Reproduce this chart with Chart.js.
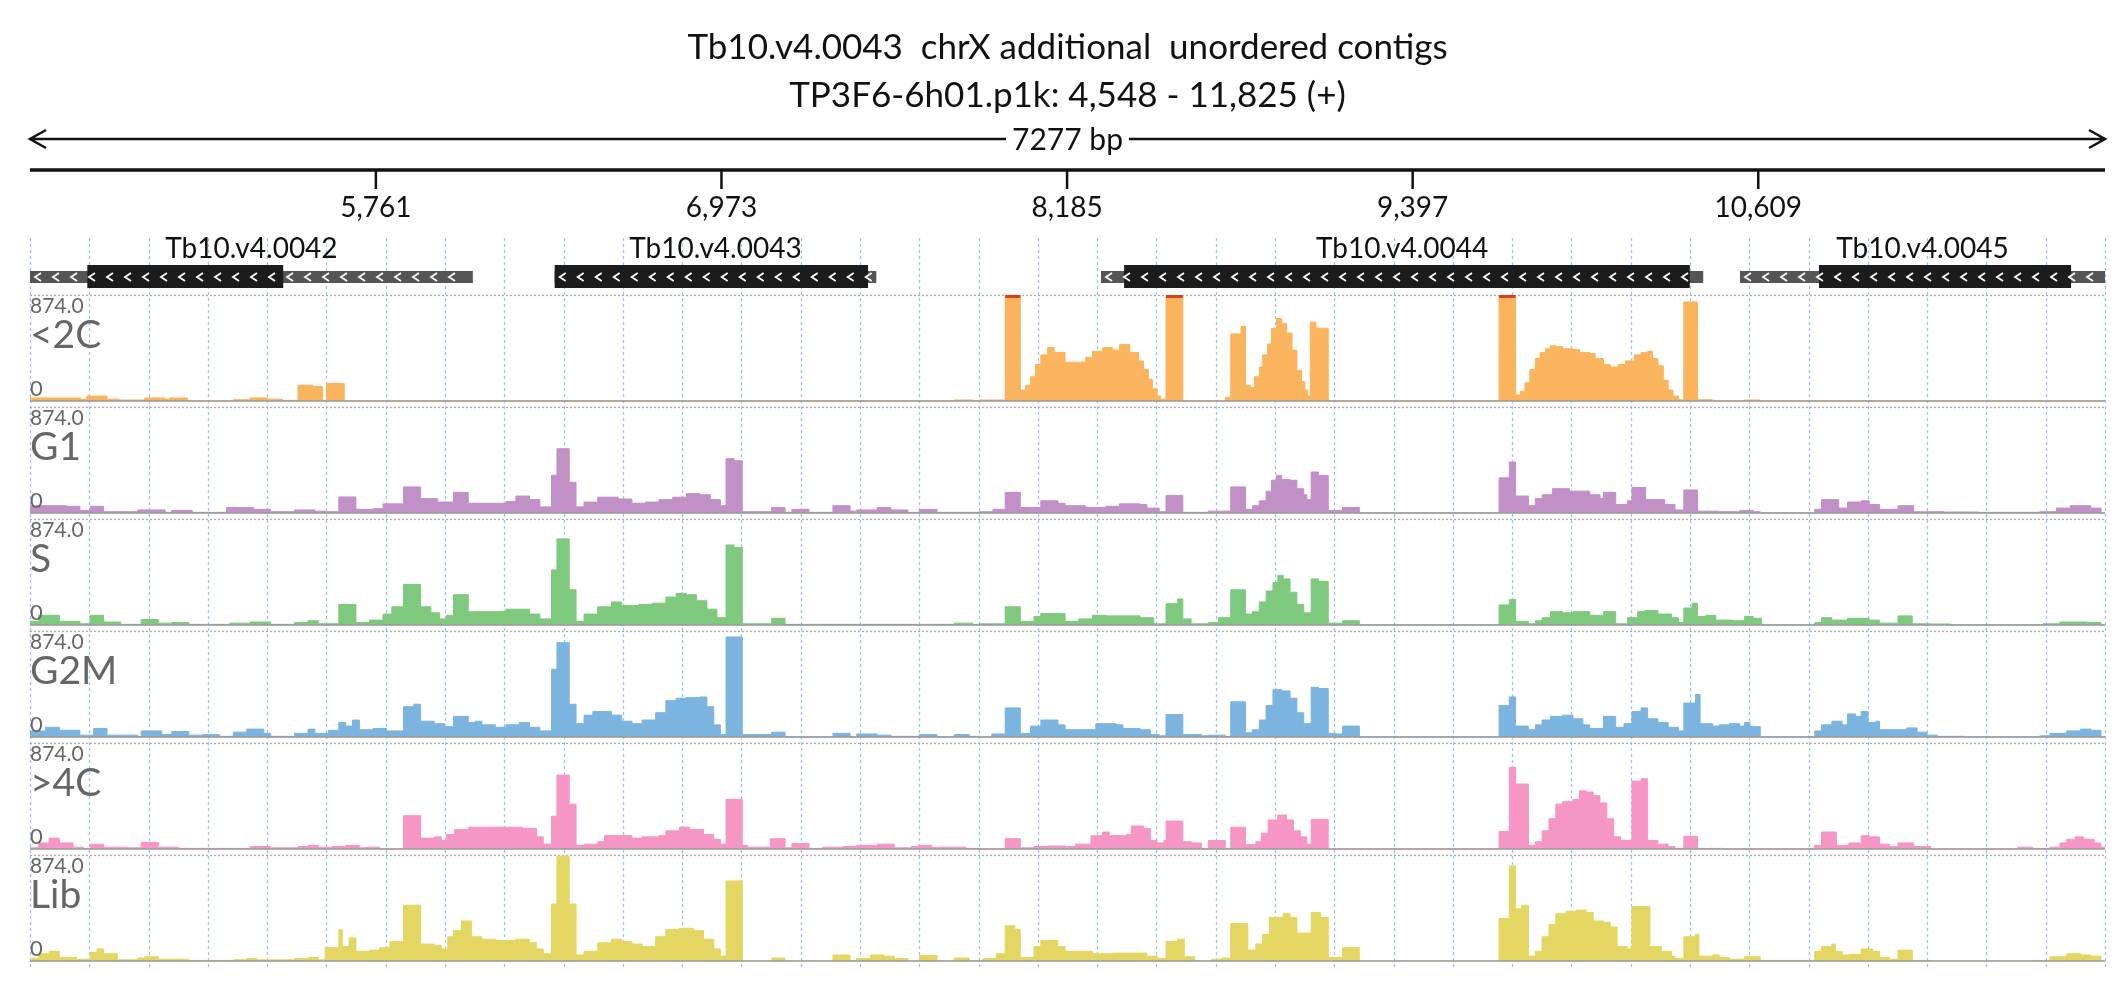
<!DOCTYPE html>
<html>
<head>
<meta charset="utf-8">
<script src="https://cdn.jsdelivr.net/npm/chart.js@4"></script>
<style>
  html, body { margin: 0; padding: 0; background: #fff; }
  #wrap { width: 2126px; height: 1000px; }
</style>
</head>
<body>
<div id="wrap"><canvas id="chart" width="2126" height="1000"></canvas></div>
<script>
const REGION_START = 4548;
const REGION_END = 11825;
const TRACK_MAX = 874;
const titleLines = ['Tb10.v4.0043  chrX additional  unordered contigs', 'TP3F6-6h01.p1k: 4,548 - 11,825 (+)'];
const spanLabel = '7277 bp';
const rulerTicks = [5761, 6973, 8185, 9397, 10609];

// genes: [name, thinStart, thinEnd, thickStart, thickEnd]
const genes = [
  ['Tb10.v4.0042', 4548, 6101, 4749, 5436],
  ['Tb10.v4.0043', 6388, 7516, 6388, 7487],
  ['Tb10.v4.0044', 8304, 10416, 8385, 10369],
  ['Tb10.v4.0045', 10545, 11825, 10822, 11706]
];

const trackNames = ['<2C', 'G1', 'S', 'G2M', '>4C', 'Lib'];
const trackColors = ['#fbb45e', '#c190c7', '#7fc97f', '#7cb4e0', '#f596c5', '#e4d662'];

// coverage as steps: value holds from each position until the next one
const posLt2C = [4548,4725,4747,4818,4861,4950,5022,5038,5100,5261,5320,5380,5433,5488,5540,5574,5588,5650,7789,7854,7878,7968,8021,8040,8057,8074,8093,8117,8140,8178,8250,8274,8309,8345,8369,8405,8436,8453,8470,8484,8501,8513,8532,8591,8740,8759,8795,8811,8828,8842,8859,8871,8888,8902,8919,8938,8955,8974,8991,9007,9019,9029,9038,9058,9101,9700,9758,9775,9791,9808,9827,9844,9863,9880,9899,9923,9959,9982,10018,10037,10066,10090,10119,10143,10174,10198,10221,10238,10257,10276,10293,10310,10329,10348,10396,10449,10561,10616];
const valLt2C = [25,12,40,15,8,25,15,25,0,10,25,15,5,130,120,5,145,0,8,0,8,874,90,130,200,300,380,440,400,320,360,410,440,420,465,400,330,260,180,100,40,15,874,0,30,553,616,130,110,200,280,380,470,600,680,640,560,420,250,160,90,40,650,600,0,874,50,80,150,260,350,400,430,455,450,430,425,400,390,350,300,280,300,330,380,400,410,350,290,170,90,40,10,817,10,0,8,0];

const posG1 = [4548,4675,4723,4759,4806,4926,5022,5045,5117,5237,5332,5392,5476,5547,5583,5631,5691,5751,5786,5858,5918,5978,6033,6085,6217,6252,6300,6336,6377,6396,6439,6463,6491,6539,6611,6659,6707,6754,6802,6850,6898,6934,6969,6989,7017,7046,7149,7196,7220,7280,7364,7424,7447,7519,7567,7627,7667,7729,7878,7925,7968,8021,8093,8153,8178,8250,8321,8369,8441,8465,8508,8532,8591,8680,8759,8811,8835,8859,8883,8902,8919,8938,8967,8991,9015,9026,9041,9067,9101,9151,9210,9700,9736,9758,9803,9827,9851,9887,9947,10018,10054,10066,10109,10150,10166,10214,10281,10317,10348,10396,10472,10544,10592,10616,10807,10831,10891,10922,10970,10998,11034,11099,11154,11261,11381,11596,11655,11703,11775,11811];
const valG1 = [60,55,20,55,10,25,5,20,5,45,30,10,25,15,10,132,30,35,75,215,118,90,170,80,95,140,110,50,311,530,253,50,90,130,115,80,90,110,130,160,150,110,60,448,430,10,45,5,30,5,60,15,25,45,25,5,30,5,10,30,170,45,100,80,60,45,55,75,70,40,10,145,5,15,215,30,60,100,180,270,310,275,270,200,150,110,338,310,20,45,0,290,420,140,60,120,150,200,180,150,120,170,70,100,210,110,70,25,190,15,10,20,10,0,30,110,40,90,100,70,30,60,10,8,5,10,40,60,40,0];

const posS = [4548,4579,4651,4723,4759,4806,4866,4938,4998,5045,5105,5249,5320,5392,5476,5523,5559,5631,5691,5739,5786,5817,5858,5918,5954,5985,6009,6033,6085,6217,6300,6336,6377,6396,6439,6463,6491,6539,6587,6623,6683,6730,6778,6814,6850,6886,6922,6957,6989,7017,7046,7149,7196,7789,7854,7878,7968,8021,8069,8093,8178,8226,8274,8321,8441,8489,8532,8572,8591,8620,8680,8716,8759,8811,8835,8859,8883,8907,8924,8943,8967,8991,9015,9041,9067,9101,9151,9210,9700,9736,9758,9803,9827,9851,9880,9923,9959,10018,10066,10109,10150,10186,10210,10257,10305,10329,10348,10377,10396,10425,10460,10520,10561,10592,10621,10807,10831,10867,10922,10998,11034,11099,11149,11213,11285,11608,11667,11763,11811];
const valS = [30,80,30,10,80,25,5,45,15,20,5,15,25,5,20,35,10,170,20,40,90,150,335,150,100,50,80,250,110,130,90,50,454,710,290,30,90,150,190,160,170,180,230,260,250,200,130,60,660,640,10,55,5,15,5,10,150,30,70,95,30,50,80,75,60,10,175,215,50,10,20,60,290,90,110,190,280,350,410,380,270,170,100,380,360,15,35,0,165,210,30,10,35,60,110,100,110,80,110,10,60,110,120,90,60,20,140,180,70,80,40,35,70,55,0,20,60,40,55,40,15,75,10,8,0,10,25,20,0];

const posG2M = [4548,4603,4651,4723,4771,4818,4926,4938,5010,5045,5105,5153,5213,5261,5308,5368,5392,5476,5523,5547,5595,5631,5655,5679,5703,5751,5798,5858,5894,5918,5966,6001,6033,6085,6109,6133,6181,6217,6264,6300,6336,6377,6396,6439,6463,6491,6522,6587,6623,6659,6695,6742,6778,6814,6850,6898,6922,6946,6969,6989,7046,7149,7196,7364,7424,7447,7519,7567,7667,7729,7789,7842,7878,7921,7968,8021,8057,8093,8153,8178,8286,8357,8381,8441,8477,8508,8532,8591,8656,8680,8740,8759,8811,8835,8859,8883,8907,8938,8967,8991,9015,9041,9067,9101,9129,9151,9210,9700,9736,9758,9803,9827,9851,9880,9923,9959,9994,10018,10066,10109,10138,10166,10198,10221,10257,10293,10329,10348,10389,10405,10449,10472,10508,10544,10561,10580,10616,10807,10831,10867,10903,10922,10950,10970,10994,11022,11034,11099,11130,11166,11201,11237,11333,11596,11632,11691,11739,11775,11811];
const valG2M = [50,80,55,15,70,15,5,50,20,45,15,20,5,40,65,30,5,30,65,30,55,120,90,140,60,70,50,250,270,130,110,85,170,120,130,100,80,100,120,80,50,558,778,270,110,180,210,180,130,110,140,200,300,320,325,330,250,100,20,825,20,40,0,30,0,25,15,5,20,0,20,5,0,25,240,30,90,140,100,60,110,100,70,60,20,10,185,20,10,15,5,290,35,60,140,260,390,380,320,200,110,410,400,30,25,90,0,260,330,90,60,100,140,170,180,150,100,70,170,80,110,210,240,150,120,80,50,280,350,110,90,100,110,90,120,85,0,50,100,130,100,190,170,210,120,130,60,60,75,40,15,5,0,10,30,50,65,55,0];

const posGt4C = [4548,4579,4615,4651,4699,4735,4759,4806,4890,4938,4998,5069,5249,5320,5392,5488,5523,5559,5607,5655,5703,5727,5774,5858,5918,5966,5990,6009,6037,6085,6276,6324,6348,6377,6396,6439,6463,6491,6539,6563,6659,6695,6754,6778,6826,6862,6910,6946,6969,6989,7046,7065,7144,7196,7220,7280,7328,7400,7447,7519,7579,7639,7663,7710,7830,7878,7968,8021,8069,8117,8178,8214,8269,8309,8333,8393,8410,8453,8477,8501,8525,8532,8591,8620,8656,8680,8740,8759,8811,8847,8866,8890,8924,8955,8979,9003,9026,9041,9101,9700,9736,9758,9803,9827,9851,9875,9899,9923,9959,9982,10006,10030,10054,10078,10102,10126,10166,10198,10221,10257,10293,10317,10348,10396,10484,10807,10831,10883,10927,10970,10998,11034,11070,11099,11154,11213,11519,11572,11632,11667,11691,11720,11751,11787,11811];
const valGt4C = [10,50,90,50,15,5,40,15,10,55,15,5,5,20,10,20,30,15,20,30,10,15,0,275,90,100,70,120,160,180,170,100,40,270,610,370,30,40,60,110,90,100,110,150,180,160,120,80,40,410,30,15,85,10,45,5,15,20,30,40,10,20,30,15,5,0,85,10,20,25,20,40,110,140,110,120,190,170,70,50,70,230,60,50,0,70,5,180,35,60,130,240,280,240,150,100,40,245,0,145,674,536,30,60,150,250,370,390,410,480,470,440,380,250,100,70,560,580,70,40,20,5,105,5,0,30,140,30,50,110,100,40,20,50,20,0,15,5,15,50,80,100,80,50,15];

const posLib = [4548,4579,4615,4651,4711,4759,4783,4806,4854,4926,4950,4998,5105,5261,5308,5344,5476,5523,5559,5583,5631,5643,5667,5691,5739,5774,5810,5858,5918,5966,5990,6013,6033,6061,6097,6133,6181,6252,6300,6324,6348,6377,6396,6439,6463,6491,6539,6587,6623,6659,6695,6742,6778,6826,6874,6910,6946,6969,6989,7046,7149,7196,7364,7424,7447,7495,7543,7579,7627,7667,7729,7789,7842,7890,7937,7968,8002,8021,8069,8093,8153,8178,8274,8345,8465,8501,8532,8572,8596,8632,8692,8728,8759,8819,8847,8871,8895,8943,8967,8991,9041,9074,9101,9151,9210,9700,9736,9758,9779,9803,9827,9851,9875,9899,9935,9971,10006,10030,10066,10090,10114,10150,10166,10229,10269,10305,10317,10348,10389,10401,10449,10472,10508,10561,10616,10807,10831,10867,10879,10903,10927,10970,11010,11034,11070,11099,11149,11213,11572,11632,11691,11739,11775,11811];
const valLib = [20,60,80,30,15,70,100,60,10,25,35,15,5,10,20,10,20,30,10,110,258,120,190,80,90,110,160,460,140,130,100,200,250,330,200,180,170,180,150,100,60,470,865,470,50,80,150,180,160,140,120,200,260,270,250,180,100,40,660,0,25,0,50,0,20,50,40,20,0,45,0,25,0,20,60,290,260,30,120,170,120,80,60,65,40,20,160,180,35,0,15,25,310,90,140,220,360,390,360,230,400,360,30,110,0,350,784,430,460,40,80,200,300,390,410,420,400,330,320,280,120,100,450,120,80,40,20,200,220,40,50,30,15,35,5,80,120,140,80,50,55,100,80,30,15,90,5,0,5,35,60,50,40,0];

const trackPos = [posLt2C, posG1, posS, posG2M, posGt4C, posLib];
const trackVal = [valLt2C, valG1, valS, valG2M, valGt4C, valLib];

// vertical stacking: each track gets a band of the shared y scale
const BAND = 924;
const nTracks = trackNames.length;
const baseOf = i => (nTracks - 1 - i) * BAND;

const datasets = trackNames.map((name, i) => {
  const pos = trackPos[i], val = trackVal[i], base = baseOf(i);
  const pts = pos.map((x, k) => ({x: x, y: base + val[k]}));
  pts.push({x: REGION_END, y: base + val[val.length - 1]});
  return {
    label: name,
    data: pts,
    stepped: 'before',
    fill: {value: base},
    backgroundColor: trackColors[i],
    borderColor: trackColors[i],
    borderWidth: 1,
    pointRadius: 0,
    tension: 0
  };
});

const FONT = 'Lato, "Open Sans", sans-serif';

const gridPlugin = {
  id: 'grid',
  beforeDatasetsDraw(chart) {
    const ctx = chart.ctx, x = chart.scales.x, y = chart.scales.y;
    const area = chart.chartArea;
    ctx.save();
    // dotted blue grid
    ctx.strokeStyle = '#9cc6ec';
    ctx.lineWidth = 1.3;
    ctx.setLineDash([3, 3]);
    const step = (REGION_END - REGION_START) / 35;
    for (let k = 0; k <= 35; k++) {
      const px = Math.round(x.getPixelForValue(REGION_START + k * step)) + 0.5;
      ctx.beginPath();
      ctx.moveTo(px, 238);
      ctx.lineTo(px, area.bottom + 6);
      ctx.stroke();
    }
    // track top lines
    ctx.strokeStyle = '#aaa';
    ctx.setLineDash([2, 2]);
    for (let i = 0; i < nTracks; i++) {
      const top = Math.round(y.getPixelForValue(baseOf(i) + TRACK_MAX)) + 0.5;
      ctx.beginPath();
      ctx.moveTo(area.left, top);
      ctx.lineTo(area.right, top);
      ctx.stroke();
    }
    ctx.restore();
  },
  afterDatasetsDraw(chart) {
    const ctx = chart.ctx, x = chart.scales.x, y = chart.scales.y;
    const area = chart.chartArea;
    ctx.save();
    for (let i = 0; i < nTracks; i++) {
      const base = baseOf(i);
      const by = y.getPixelForValue(base);
      const ty = y.getPixelForValue(base + TRACK_MAX);
      // clipped tops
      const pos = trackPos[i], val = trackVal[i];
      ctx.fillStyle = '#d9411e';
      for (let k = 0; k < pos.length; k++) {
        if (val[k] >= TRACK_MAX) {
          const x0 = x.getPixelForValue(pos[k]);
          const x1 = x.getPixelForValue(k + 1 < pos.length ? pos[k + 1] : REGION_END);
          ctx.fillRect(x0, ty, x1 - x0, 3);
        }
      }
      // baseline
      ctx.strokeStyle = '#999';
      ctx.lineWidth = 1.5;
      ctx.beginPath();
      ctx.moveTo(area.left, by);
      ctx.lineTo(area.right, by);
      ctx.stroke();
      // labels
      ctx.fillStyle = '#666';
      ctx.textAlign = 'left';
      ctx.textBaseline = 'top';
      ctx.font = '21px ' + FONT;
      ctx.fillText('874.0', area.left, ty + 1);
      ctx.font = '39px ' + FONT;
      ctx.fillText(trackNames[i], area.left, ty + 21);
      ctx.textBaseline = 'bottom';
      ctx.font = '22px ' + FONT;
      ctx.fillText('0', area.left, by - 1);
    }
    ctx.restore();
  },
  afterDraw(chart) {
    const ctx = chart.ctx, x = chart.scales.x;
    const L = x.getPixelForValue(REGION_START), R = x.getPixelForValue(REGION_END);
    ctx.save();
    ctx.fillStyle = '#111';
    ctx.textAlign = 'center';
    ctx.textBaseline = 'middle';
    ctx.font = '35px ' + FONT;
    ctx.fillText(titleLines[0], (L + R) / 2, 48);
    ctx.fillText(titleLines[1], (L + R) / 2, 96);
    // span arrow
    ctx.strokeStyle = '#111';
    ctx.lineWidth = 2.5;
    ctx.beginPath();
    ctx.moveTo(L, 139); ctx.lineTo(R, 139);
    ctx.moveTo(L + 16, 130); ctx.lineTo(L, 139); ctx.lineTo(L + 16, 148);
    ctx.moveTo(R - 16, 130); ctx.lineTo(R, 139); ctx.lineTo(R - 16, 148);
    ctx.stroke();
    ctx.font = '30px ' + FONT;
    const tw = ctx.measureText(spanLabel).width + 12;
    ctx.fillStyle = '#fff';
    ctx.fillRect((L + R) / 2 - tw / 2, 124, tw, 30);
    ctx.fillStyle = '#111';
    ctx.fillText(spanLabel, (L + R) / 2, 140);
    // ruler
    ctx.lineWidth = 3.5;
    ctx.beginPath();
    ctx.moveTo(L, 170); ctx.lineTo(R, 170);
    ctx.stroke();
    ctx.lineWidth = 2.5;
    ctx.font = '28px ' + FONT;
    rulerTicks.forEach(t => {
      const px = x.getPixelForValue(t);
      ctx.beginPath(); ctx.moveTo(px, 170); ctx.lineTo(px, 189); ctx.stroke();
      ctx.fillText(t.toLocaleString('en-US'), px, 208);
    });
    // genes
    genes.forEach(g => {
      const [name, s, e, ts, te] = g;
      const xs = x.getPixelForValue(s), xe = x.getPixelForValue(e);
      const xts = x.getPixelForValue(ts), xte = x.getPixelForValue(te);
      ctx.fillStyle = '#555';
      ctx.fillRect(xs, 271, xe - xs, 12);
      ctx.fillStyle = '#1c1c1c';
      ctx.fillRect(xts, 265, xte - xts, 23);
      ctx.strokeStyle = '#fff';
      ctx.lineWidth = 1.8;
      for (let cx = xs + 8; cx < xe - 4; cx += 18) {
        ctx.beginPath();
        ctx.moveTo(cx + 3, 273); ctx.lineTo(cx - 3, 277); ctx.lineTo(cx + 3, 281);
        ctx.stroke();
      }
      ctx.fillStyle = '#111';
      ctx.font = '28px ' + FONT;
      ctx.fillText(name, (xs + xe) / 2, 249);
    });
    ctx.restore();
  }
};

new Chart(document.getElementById('chart'), {
  type: 'line',
  data: {datasets: datasets},
  options: {
    responsive: false,
    animation: false,
    events: [],
    layout: {padding: {left: 30, right: 21, top: 295, bottom: 39}},
    plugins: {legend: {display: false}, tooltip: {enabled: false}},
    scales: {
      x: {type: 'linear', min: REGION_START, max: REGION_END, display: false},
      y: {type: 'linear', min: 0, max: (nTracks - 1) * BAND + TRACK_MAX, display: false}
    }
  },
  plugins: [gridPlugin]
});
</script>
</body>
</html>
